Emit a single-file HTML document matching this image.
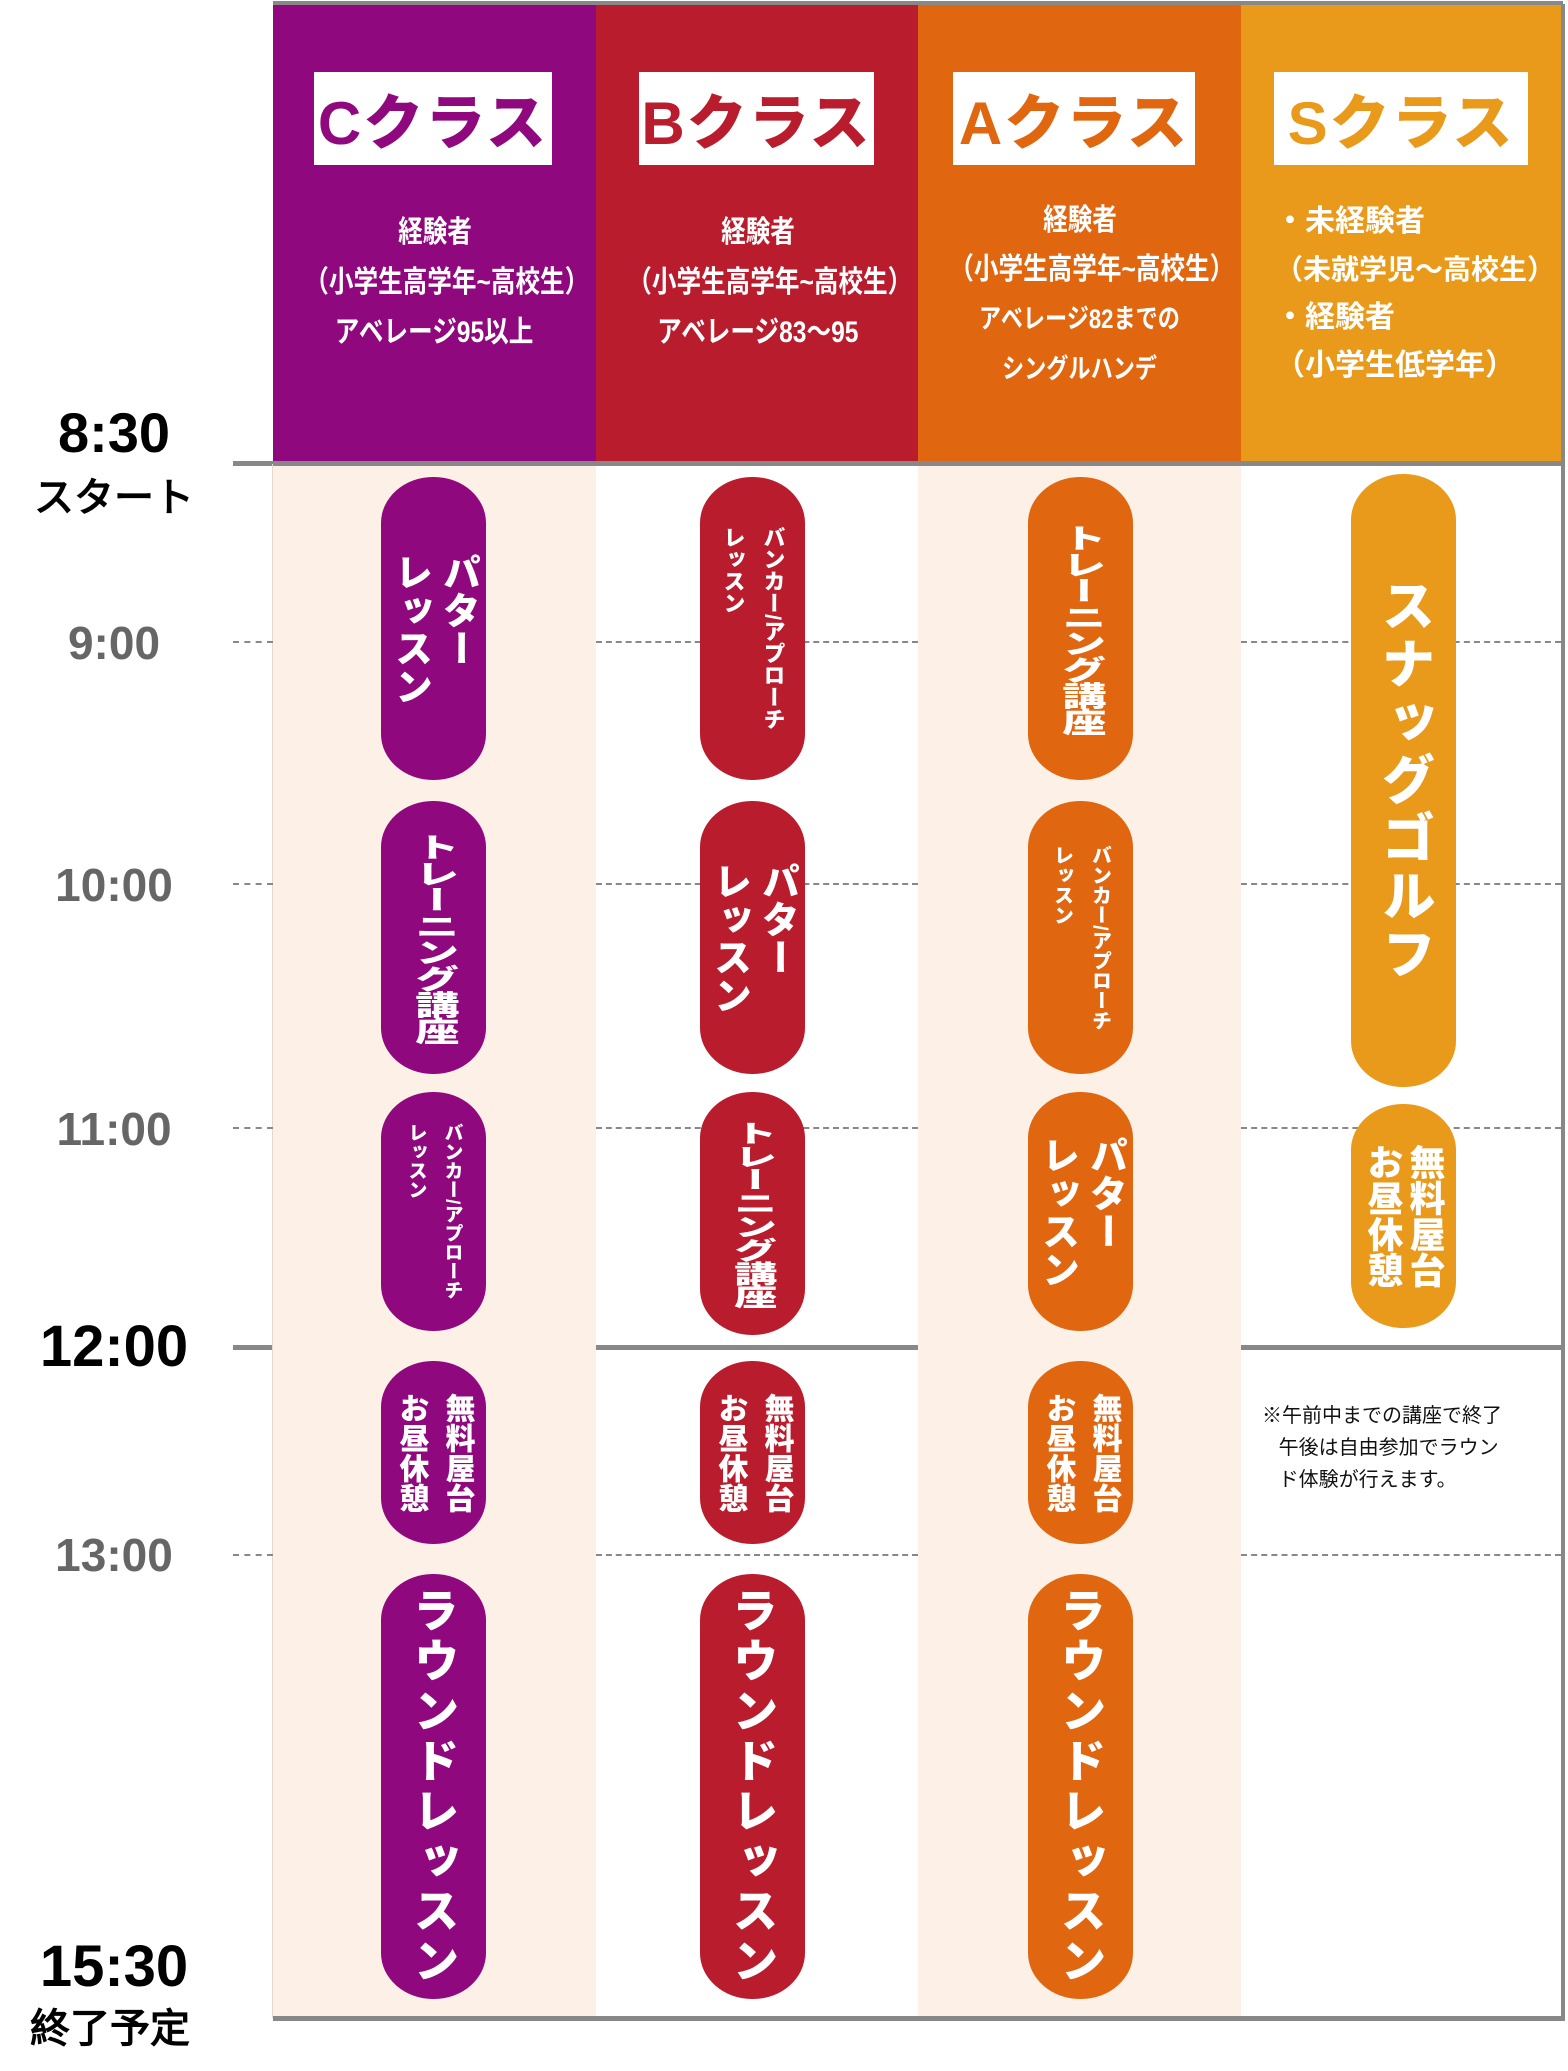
<!DOCTYPE html>
<html><head><meta charset="utf-8"><style>
body{margin:0;width:1568px;height:2071px;position:relative;background:#fff;overflow:hidden;font-family:"Liberation Sans","Noto Sans CJK JP",sans-serif}
div{position:absolute;box-sizing:border-box}
.hd{top:4px;height:460px}
.box{background:#fff;height:93px;top:72px;display:flex;align-items:center;justify-content:center;font-weight:900;font-size:60px;letter-spacing:2px}
.desc{color:#fff;font-weight:700;font-size:30px;text-align:center;width:323px;line-height:50px;white-space:nowrap}
.desc span.c{display:inline-block;transform:scaleX(0.82)}
.pill{width:105px;border-radius:52px/46px;color:#fff;font-weight:900;writing-mode:vertical-rl;display:flex;align-items:center;justify-content:center;text-align:start;white-space:nowrap}
.pill .tr{display:inline-block;transform:scale(1.3,0.82);letter-spacing:-2px}
.p{background:#8f087e}.r{background:#b91c2c}.o{background:#e06610}.g{background:#e99a1b}
.dash{height:0;border-top:2px dashed #888}
.t{font-weight:900;font-family:"Liberation Sans",sans-serif;text-align:center;width:220px;left:4px}
</style></head><body>
<div style="left:273px;top:464px;width:323px;height:1554px;background:#fdf0e6"></div>
<div style="left:918px;top:464px;width:323px;height:1554px;background:#fdf0e6"></div>
<div class="hd" style="left:273px;width:323px;background:#8f087e"></div>
<div class="hd" style="left:596px;width:322px;background:#b91c2c"></div>
<div class="hd" style="left:918px;width:323px;background:#e06610"></div>
<div class="hd" style="left:1241px;width:322px;background:#e99a1b"></div>
<div style="left:273px;top:1px;width:1290px;height:4px;background:#888"></div>
<div class="box" style="left:314px;width:238px;color:#8f087e">Cクラス</div>
<div class="box" style="left:639px;width:235px;color:#b91c2c">Bクラス</div>
<div class="box" style="left:953px;width:242px;color:#e06610">Aクラス</div>
<div class="box" style="left:1274px;width:254px;color:#e99a1b">Sクラス</div>
<div class="desc" style="left:273px;top:208px"><span class="c">経験者</span><br><span class="c">（小学生高学年~高校生）</span><br><span class="c">アベレージ95以上</span></div>
<div class="desc" style="left:596px;top:208px"><span class="c">経験者</span><br><span class="c">（小学生高学年~高校生）</span><br><span class="c">アベレージ83～95</span></div>
<div class="desc" style="left:918px;top:196px;line-height:49px"><span class="c">経験者</span><br><span class="c">（小学生高学年~高校生）</span><br><span class="c" style="font-size:27px">アベレージ82までの</span><br><span class="c" style="font-size:27px">シングルハンデ</span></div>
<div class="desc" style="left:1275px;top:198px;text-align:left;width:290px;line-height:48px">・未経験者<br><span style="font-size:28px">（未就学児～高校生）</span><br>・経験者<br>（小学生低学年）</div>
<div style="left:233px;top:461px;width:1332px;height:5px;background:#888"></div>
<div style="left:596px;top:1345px;width:322px;height:5px;background:#888"></div>
<div style="left:1241px;top:1345px;width:324px;height:5px;background:#888"></div>
<div style="left:233px;top:1345px;width:40px;height:5px;background:#888"></div>
<div style="left:273px;top:2016px;width:1292px;height:5px;background:#888"></div>
<div style="left:1561px;top:4px;width:4px;height:2016px;background:#888"></div>
<div style="left:272px;top:464px;width:1px;height:1554px;background:#e8d8cc"></div>
<div class="dash" style="left:233px;top:641px;width:40px"></div><div class="dash" style="left:596px;top:641px;width:322px"></div><div class="dash" style="left:1241px;top:641px;width:320px"></div>
<div class="dash" style="left:233px;top:883px;width:40px"></div><div class="dash" style="left:596px;top:883px;width:322px"></div><div class="dash" style="left:1241px;top:883px;width:320px"></div>
<div class="dash" style="left:233px;top:1127px;width:40px"></div><div class="dash" style="left:596px;top:1127px;width:322px"></div><div class="dash" style="left:1241px;top:1127px;width:320px"></div>
<div class="dash" style="left:233px;top:1554px;width:40px"></div><div class="dash" style="left:596px;top:1554px;width:322px"></div><div class="dash" style="left:1241px;top:1554px;width:320px"></div>
<div class="t" style="top:400px;font-size:56px;color:#000">8:30</div>
<div class="t" style="top:465px;font-size:40px;color:#000">スタート</div>
<div class="t" style="top:616px;font-size:46px;color:#666">9:00</div>
<div class="t" style="top:858px;font-size:46px;color:#666">10:00</div>
<div class="t" style="top:1102px;font-size:46px;color:#666">11:00</div>
<div class="t" style="top:1313px;font-size:58px;color:#000">12:00</div>
<div class="t" style="top:1528px;font-size:46px;color:#666">13:00</div>
<div class="t" style="top:1933px;font-size:58px;color:#000">15:30</div>
<div class="t" style="top:1996px;font-size:40px;color:#000;left:0">終了予定</div>
<!-- C -->
<div class="pill p" style="left:381px;top:477px;height:303px;font-size:38px;line-height:48px">パター<br>レッスン</div>
<div class="pill p" style="left:381px;top:801px;height:273px;font-size:34px"><span class="tr">トレーニング講座</span></div>
<div class="pill p" style="left:381px;top:1092px;height:239px;font-size:19px;line-height:36px">バンカー/アプローチ<br>レッスン</div>
<div class="pill p" style="left:381px;top:1361px;height:183px;font-size:30px;line-height:46px">無料屋台<br>お昼休憩</div>
<div class="pill p" style="left:381px;top:1574px;height:425px;font-size:46px;letter-spacing:4px">ラウンドレッスン</div>
<!-- B -->
<div class="pill r" style="left:700px;top:477px;height:303px;font-size:22px;line-height:40px">バンカー/アプローチ<br>レッスン</div>
<div class="pill r" style="left:700px;top:801px;height:273px;font-size:38px;line-height:48px">パター<br>レッスン</div>
<div class="pill r" style="left:700px;top:1092px;height:243px;font-size:32px"><span class="tr" style="transform:scale(1.35,0.78)">トレーニング講座</span></div>
<div class="pill r" style="left:700px;top:1361px;height:183px;font-size:30px;line-height:46px">無料屋台<br>お昼休憩</div>
<div class="pill r" style="left:700px;top:1574px;height:425px;font-size:46px;letter-spacing:4px">ラウンドレッスン</div>
<!-- A -->
<div class="pill o" style="left:1028px;top:477px;height:303px;font-size:34px"><span class="tr">トレーニング講座</span></div>
<div class="pill o" style="left:1028px;top:801px;height:273px;font-size:20px;line-height:38px">バンカー/アプローチ<br>レッスン</div>
<div class="pill o" style="left:1028px;top:1092px;height:239px;font-size:38px;line-height:48px">パター<br>レッスン</div>
<div class="pill o" style="left:1028px;top:1361px;height:183px;font-size:30px;line-height:46px">無料屋台<br>お昼休憩</div>
<div class="pill o" style="left:1028px;top:1574px;height:425px;font-size:46px;letter-spacing:4px">ラウンドレッスン</div>
<!-- S -->
<div class="pill g" style="left:1351px;top:474px;height:613px;font-size:54px;letter-spacing:4px">スナッグゴルフ</div>
<div class="pill g" style="left:1351px;top:1104px;height:224px;font-size:36px;line-height:42px">無料屋台<br>お昼休憩</div>
<div style="left:1262px;top:1400px;width:300px;font-size:20px;line-height:32px;color:#111">※午前中までの講座で終了<br>&nbsp;&nbsp;&nbsp;午後は自由参加でラウン<br>&nbsp;&nbsp;&nbsp;ド体験が行えます。</div>
</body></html>
